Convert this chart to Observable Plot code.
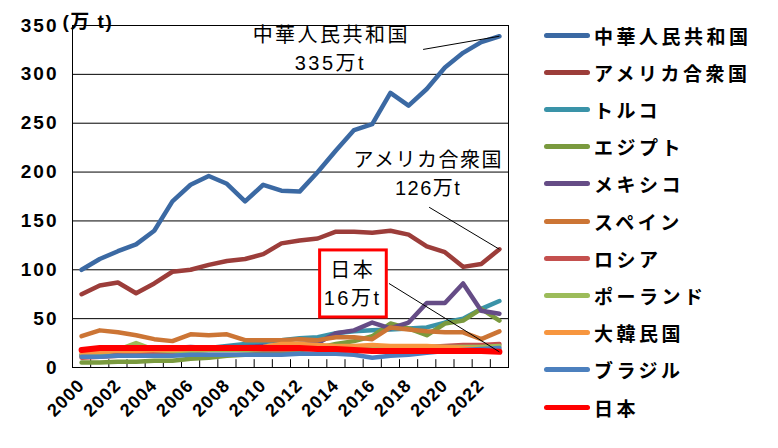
<!DOCTYPE html>
<html><head><meta charset="utf-8">
<script src="https://cdn.jsdelivr.net/npm/d3@7"></script>
<script src="https://cdn.jsdelivr.net/npm/@observablehq/plot@0.6"></script>
<style>
body{margin:0;background:#fff;}
#wrap{position:relative;width:778px;height:448px;font-family:"Liberation Sans","Noto Sans CJK JP",sans-serif;}
#legend{position:absolute;left:544px;top:0;}
.row{position:absolute;left:0;height:26px;display:flex;align-items:center;white-space:nowrap;}
.sw{width:46px;height:5px;border-radius:3px;margin-right:4px;}
.lab{font-family:"Noto Sans CJK JP",sans-serif;font-weight:700;font-size:19px;letter-spacing:3.5px;color:#000;}
</style></head><body><div id="wrap"><div id="legend"></div></div>
<script>
const years = [2000,2001,2002,2003,2004,2005,2006,2007,2008,2009,2010,2011,2012,2013,2014,2015,2016,2017,2018,2019,2020,2021,2022,2023];
const xTickYears = [2000,2002,2004,2006,2008,2010,2012,2014,2016,2018,2020,2022];
const yTicks = [0,50,100,150,200,250,300,350];
const names = ["中華人民共和国","アメリカ合衆国","トルコ","エジプト","メキシコ","スペイン","ロシア","ポーランド","大韓民国","ブラジル","日本"];
const china  = [100,111,119,126,140,170,187,196,188,170,187,181,180,200,222,243,249,281,268,285,307,322,333,339];
const usa    = [75,84,87,76,86,98,100,105,109,111,116,127,130,132,139,139,138,140,136,124,118,103,106,121];
const turkey = [13,14,15,16,17,18,19,20,22,24,26,28,30,31,35,37,38,39,40,41,46,50,60,68];
const egypt  = [5,5,6,6,7,7,9,10,12,13,14,16,18,20,24,27,32,45,40,33,45,48,60,48];
const mexico = [12,13,15,17,19,20,21,20,21,21,22,22,24,25,35,38,46,40,46,66,66,86,58,55];
const spain  = [32,38,36,33,29,27,34,33,34,28,28,28,29,28,31,31,29,41,39,37,36,36,29,37];
const russia = [10,11,12,14,15,16,17,18,18,18,18,18,19,19,19,19,20,20,21,21,22,23,23,24];
const poland = [12,14,18,25,18,17,17,18,18,18,19,19,19,20,20,21,21,21,21,21,21,21,21,22];
const korea  = [15,16,17,17,18,18,19,19,20,20,21,24,24,23,22,22,23,22,22,22,21,20,19,19];
const brazil = [11,11,12,12,12,12,13,13,13,13,13,13,14,14,14,13,10,12,13,15,17,18,19,20];
const japan  = [18,20,20,20,20,20,20,20,20,20,20,20,20,19,19,18,17,17,17,17,17,17,17,16];
const seriesValues = [china,usa,turkey,egypt,mexico,spain,russia,poland,korea,brazil,japan];
const colors = ["#3B69A3","#9C3D3A","#3A93A8","#7A9A3E","#654C86","#CC7535","#C4504E","#9CBC5A","#F7963F","#4C80BE","#FF0000"];
const widths = [4.5,4.5,4.5,4.5,4.5,4.5,4.5,4.5,4.5,4.5,6];

const boundaries = years.map(y => y - 0.5).concat([years[years.length-1] + 0.5]);
const font = '"Liberation Sans","Noto Sans CJK JP",sans-serif';

const lineMarks = seriesValues.map((vals, i) =>
  Plot.line(years.map((y, j) => ({year: y, value: vals[j]})), {
    x: "year", y: "value", stroke: colors[i], strokeWidth: widths[i],
    strokeLinejoin: "round", strokeLinecap: "round"
  })
);

const last = a => a[a.length - 1];
const lastYear = last(years);

const annoChina = [
  {t: "中華人民共和国", x: 2013.75, y: 340},
  {t: "335万t", x: 2013.7, y: 311},
  {t: "日本", x: 2014.92, y: 99.5},
  {t: "16万t", x: 2014.92, y: 70.5}
];
const annoUSA = [
  {t: "アメリカ合衆国", x: 2019.08, y: 212},
  {t: "126万t", x: 2019.08, y: 183}
];
const leaders = [
  {x1: 2018.8, y1: 325.5, x2: lastYear, y2: last(china)},
  {x1: 2019.13, y1: 164, x2: lastYear, y2: last(usa)},
  {x1: 2016.92, y1: 86, x2: lastYear, y2: last(japan)}
];

const chart = Plot.plot({
  width: 778, height: 448,
  marginLeft: 72, marginRight: 270, marginTop: 25, marginBottom: 81,
  x: {domain: [1999.5, 2023.5]},
  y: {domain: [0, 350]},
  style: {fontFamily: font, background: "white", color: "black"},
  marks: [
    Plot.gridY(yTicks, {stroke: "#000", strokeOpacity: 1, strokeWidth: 1}),
    Plot.frame({stroke: "#000", strokeWidth: 1}),
    Plot.ruleX(boundaries, {y1: 0, y2: 8, stroke: "#000", strokeWidth: 1}),
    Plot.axisY(yTicks, {tickSize: 0, tickPadding: 14, fontSize: 19, fontWeight: "bold", label: null, tickFormat: d => String(d)}),
    Plot.axisX(xTickYears, {tickSize: 0, tickPadding: 15, tickRotate: -45, fontSize: 18, fontWeight: "bold", label: null, tickFormat: d => String(d)}),
    Plot.text(["(万 t)"], {frameAnchor: "top-left", dx: -10, dy: -11, textAnchor: "start", fontSize: 19, fontWeight: "bold"}),
    ...lineMarks,
    Plot.link(leaders, {x1: "x1", y1: "y1", x2: "x2", y2: "y2", stroke: "#000", strokeWidth: 1}),
    Plot.rect([{x1: 2013.13, x2: 2016.8, y1: 51.2, y2: 119.8}], {x1: "x1", x2: "x2", y1: "y1", y2: "y2", fill: "white", stroke: "#FF0000", strokeWidth: 3}),
    Plot.text(annoChina, {x: "x", y: "y", text: "t", fontSize: 20, fill: "#000"}),
    Plot.text(annoUSA, {x: "x", y: "y", text: "t", fontSize: 20, fill: "#000"})
  ]
});
const svg = d3.select(chart);
svg.selectAll('g[aria-label="y-axis tick label"]').attr("letter-spacing", "2px");
svg.selectAll('g[aria-label="x-axis tick label"]').attr("letter-spacing", "1px");
const textGroups = svg.selectAll('g[aria-label="text"]').nodes();
if (textGroups[0]) d3.select(textGroups[0]).attr("letter-spacing", "1.5px");
if (textGroups[1]) d3.select(textGroups[1]).attr("letter-spacing", "2.5px");
if (textGroups[2]) d3.select(textGroups[2]).attr("letter-spacing", "1.5px");
document.getElementById("wrap").prepend(chart);

const legend = document.getElementById("legend");
names.forEach((n, i) => {
  const row = document.createElement("div");
  row.className = "row";
  row.style.top = (35 + i * 37.2 - 13) + "px";
  row.innerHTML = `<div class="sw" style="background:${colors[i]}"></div><span class="lab">${n}</span>`;
  legend.appendChild(row);
});
</script></body></html>
